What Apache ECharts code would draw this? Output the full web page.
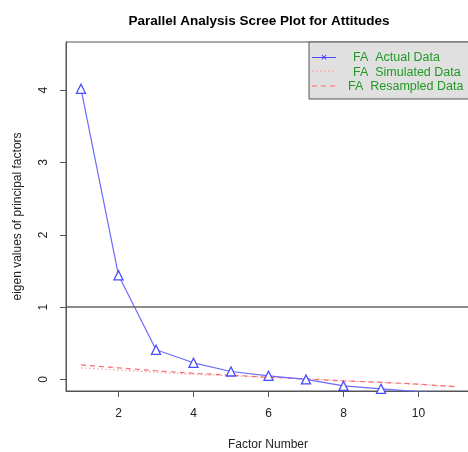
<!DOCTYPE html>
<html>
<head>
<meta charset="utf-8">
<script src="https://cdn.jsdelivr.net/npm/echarts@6/dist/echarts.min.js"></script>
<style>
  html, body { margin: 0; padding: 0; background: #fff; }
  #graph { width: 468px; height: 452px; }
</style>
</head>
<body>
<div id="graph"></div>
<script>
var factors = [1, 2, 3, 4, 5, 6, 7, 8, 9, 10, 11];
var actualData = [4.02, 1.44, 0.41, 0.23, 0.11, 0.05, 0.0, -0.09, -0.13, -0.17, -0.19];
var simulatedData = [0.16, 0.13, 0.10, 0.07, 0.05, 0.03, 0.01, -0.02, -0.04, -0.07, -0.10];
var resampledData = [0.20, 0.16, 0.12, 0.085, 0.06, 0.03, 0.005, -0.02, -0.04, -0.065, -0.10];
var xTicks = [2, 4, 6, 8, 10];
var yTicks = [0, 1, 2, 3, 4];
var legendNames = ['FA  Actual Data', 'FA  Simulated Data', 'FA  Resampled Data'];

var font = '"Liberation Sans", Arial, Helvetica, sans-serif';
var pairs = arr => factors.map((f, i) => [f, arr[i]]);

var chart = echarts.init(document.getElementById('graph'));

var option = {
  animation: false,
  backgroundColor: '#fff',
  textStyle: { fontFamily: font },
  title: {
    text: 'Parallel Analysis Scree Plot for Attitudes',
    left: 254,
    textAlign: 'center',
    top: 9,
    textStyle: { fontSize: 13.5, fontWeight: 'bold', color: '#000', fontFamily: font }
  },
  grid: {
    left: 66, top: 42, right: -2, bottom: 61,
    outerBoundsMode: 'none',
    containLabel: false,
    show: true, borderColor: '#555', borderWidth: 1
  },
  xAxis: {
    type: 'value',
    min: 0.6,
    max: 11.373,
    name: 'Factor Number',
    nameLocation: 'middle',
    nameGap: 48,
    nameTextStyle: { fontSize: 12, color: '#222', fontFamily: font },
    splitLine: { show: false },
    axisLine: { show: true, onZero: false, lineStyle: { color: '#555' } },
    axisTick: { show: true, length: 6, lineStyle: { color: '#555' }, customValues: xTicks },
    axisLabel: { margin: 17, fontSize: 12, color: '#222', customValues: xTicks }
  },
  yAxis: {
    type: 'value',
    min: -0.16,
    max: 4.667,
    name: 'eigen values of principal factors',
    nameLocation: 'middle',
    nameGap: 42,
    nameTextStyle: { fontSize: 12, color: '#222', fontFamily: font },
    splitLine: { show: false },
    axisLine: { show: true, onZero: false, lineStyle: { color: '#555' } },
    axisTick: { show: true, length: 6, lineStyle: { color: '#555' }, customValues: yTicks },
    axisLabel: { margin: 16, fontSize: 12, color: '#222', rotate: 90, customValues: yTicks }
  },
  series: [
    {
      name: legendNames[0],
      type: 'line',
      data: pairs(actualData),
      symbol: 'triangle',
      symbolSize: 9,
      showSymbol: true,
      lineStyle: { color: '#6b6bff', width: 1.2 },
      itemStyle: { color: '#fff', borderColor: '#4a4aff', borderWidth: 1.3 },
      markLine: {
        silent: true,
        symbol: 'none',
        label: { show: false },
        lineStyle: { color: '#666', width: 1.5, type: 'solid' },
        data: [{ yAxis: 1 }]
      },
      z: 3
    },
    {
      name: legendNames[1],
      type: 'line',
      data: pairs(simulatedData),
      symbol: 'none',
      lineStyle: { color: '#ff9a9a', width: 1.2, type: [1.5, 2.5] },
      z: 2
    },
    {
      name: legendNames[2],
      type: 'line',
      data: pairs(resampledData),
      symbol: 'none',
      lineStyle: { color: '#ff6b6b', width: 1.2, type: [5, 4] },
      z: 2
    }
  ],
  graphic: [
    {
      type: 'group',
      z: 100,
      children: [
        { type: 'rect', shape: { x: 309, y: 42, width: 170, height: 57 },
          style: { fill: '#e0e0e0', stroke: '#555', lineWidth: 1 } },
        { type: 'line', shape: { x1: 312, y1: 57.5, x2: 336, y2: 57.5 },
          style: { stroke: '#4a4aff', lineWidth: 1 } },
        { type: 'text', style: { x: 324, y: 57.5, text: '×', fill: '#3333ff', font: '11px ' + font, align: 'center', verticalAlign: 'middle' } },
        { type: 'line', shape: { x1: 312, y1: 71, x2: 336, y2: 71 },
          style: { stroke: '#ff9a9a', lineWidth: 1, lineDash: [1.5, 2.5] } },
        { type: 'line', shape: { x1: 312, y1: 86, x2: 336, y2: 86 },
          style: { stroke: '#ff6b6b', lineWidth: 1, lineDash: [5, 4] } },
        { type: 'text', style: { x: 353, y: 57.5, text: legendNames[0], fill: '#229922', font: '12.5px ' + font, verticalAlign: 'middle' } },
        { type: 'text', style: { x: 353, y: 72.5, text: legendNames[1], fill: '#229922', font: '12.5px ' + font, verticalAlign: 'middle' } },
        { type: 'text', style: { x: 348, y: 87, text: legendNames[2], fill: '#229922', font: '12.5px ' + font, verticalAlign: 'middle' } }
      ]
    }
  ]
};

chart.setOption(option);
</script>
</body>
</html>
